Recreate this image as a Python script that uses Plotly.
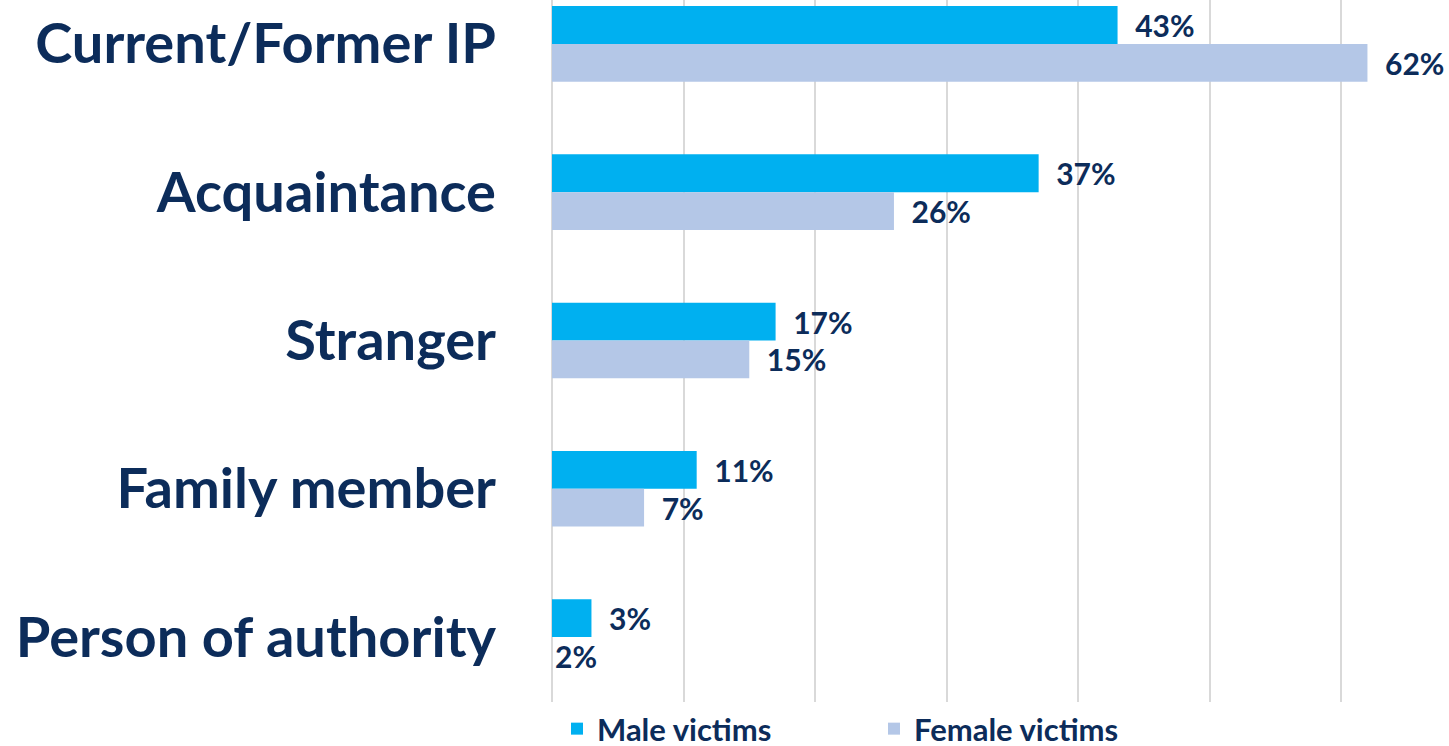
import plotly.graph_objects as go

categories = ["Current/Former IP", "Acquaintance", "Stranger", "Family member", "Person of authority"]
male_values = [43, 37, 17, 11, 3]
female_values = [62, 26, 15, 7, 2]
series_names = ["Male victims", "Female victims"]

NAVY = "#0c2c5a"
MALE_C = "#00b0f0"
FEMALE_C = "#b4c7e7"
LBL = dict(family="Lato", size=30, color=NAVY, weight="bold")

fig = go.Figure()
fig.add_trace(go.Bar(
    y=categories, x=male_values, orientation="h", name=series_names[0],
    marker=dict(color=MALE_C, line=dict(width=0)),
    texttemplate="  %{x}%", textposition="outside", textangle=0,
    textfont=LBL, outsidetextfont=LBL,
    cliponaxis=False,
))
f_colors = [FEMALE_C] * 4 + ["rgba(0,0,0,0)"]
f_pos = ["outside"] * 4 + ["inside"]
f_tmpl = ["  %{x}%"] * 4 + ["%{x}%"]
fig.add_trace(go.Bar(
    y=categories, x=female_values, orientation="h", name=series_names[1],
    marker=dict(color=f_colors, line=dict(width=0)),
    texttemplate=f_tmpl, textposition=f_pos, insidetextanchor="start",
    constraintext="none", textangle=0,
    textfont=LBL, insidetextfont=LBL, outsidetextfont=LBL,
    cliponaxis=False,
))

fig.update_layout(
    width=1449, height=746,
    margin=dict(l=552, r=0, t=0, b=0),
    barmode="group", bargap=0.49, bargroupgap=0,
    plot_bgcolor="white", paper_bgcolor="white",
    font=dict(family="Lato", color=NAVY),
    showlegend=True,
    legend=dict(orientation="h", x=(557 - 552) / 897, xanchor="left",
                yref="container", y=17 / 746, yanchor="middle",
                font=dict(family="Lato", size=31, color=NAVY, weight="bold"),
                itemwidth=30, entrywidth=272, entrywidthmode="pixels",
                traceorder="normal"),
    uniformtext=dict(mode=False),
)
fig.update_xaxes(range=[0, 68.2], showgrid=True, gridcolor="#d9d9d9", gridwidth=2,
                 dtick=10, showticklabels=False, zeroline=True, zerolinecolor="#d9d9d9",
                 zerolinewidth=2, showline=False, fixedrange=True)
fig.update_yaxes(categoryorder="array", categoryarray=categories,
                 range=[4.438, -0.296], showgrid=False, showline=False,
                 tickfont=dict(family="Lato", size=56, color=NAVY, weight="bold"),
                 ticks="", ticklabelstandoff=55)

fig.write_html("out.html")
